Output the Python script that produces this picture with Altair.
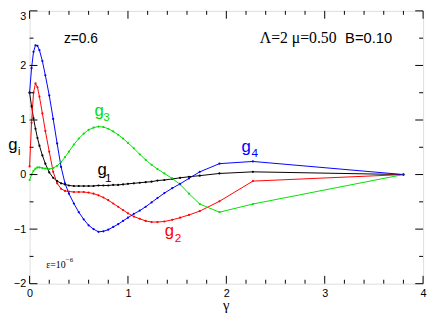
import altair as alt
import pandas as pd

gamma = [0, 0.02, 0.04, 0.06, 0.08, 0.1, 0.13, 0.16, 0.2, 0.24, 0.28, 0.32, 0.36, 0.4,
         0.45, 0.5, 0.55, 0.6, 0.65, 0.7, 0.75, 0.8, 0.85, 0.9, 0.95, 1.0,
         1.06, 1.12, 1.18, 1.24, 1.3, 1.37, 1.45, 1.53, 1.62, 1.73, 1.93, 2.27, 3.8]

g1 = [1.5, 1.25, 1.03, 0.84, 0.67, 0.53, 0.35, 0.2, 0.04, -0.06, -0.12, -0.16, -0.18, -0.2,
      -0.21, -0.21, -0.21, -0.21, -0.21, -0.2, -0.2, -0.2, -0.19, -0.19, -0.18, -0.17,
      -0.16, -0.15, -0.14, -0.13, -0.11, -0.1, -0.08, -0.06, -0.04, -0.02, 0.02, 0.05, 0.0]

g2 = [0.15, 0.95, 1.5, 1.67, 1.6, 1.43, 1.12, 0.8, 0.42, 0.05, -0.16, -0.26, -0.3, -0.31,
      -0.32, -0.32, -0.32, -0.33, -0.35, -0.38, -0.42, -0.47, -0.53, -0.59, -0.65, -0.71,
      -0.77, -0.81, -0.85, -0.87, -0.87, -0.86, -0.83, -0.79, -0.74, -0.67, -0.49, -0.12, 0.0]

g3 = [-0.1, 0.0, 0.07, 0.11, 0.13, 0.13, 0.12, 0.11, 0.1, 0.12, 0.16, 0.23, 0.32, 0.42,
      0.55, 0.66, 0.75, 0.82, 0.86, 0.88, 0.87, 0.84, 0.79, 0.73, 0.66, 0.58,
      0.48, 0.37, 0.27, 0.18, 0.1, 0.02, -0.07, -0.18, -0.35, -0.54, -0.69, -0.54, 0.0]

g4 = [1.5, 1.95, 2.25, 2.37, 2.36, 2.28, 2.08, 1.82, 1.45, 1.02, 0.57, 0.14, -0.16, -0.35,
      -0.53, -0.69, -0.82, -0.93, -1.0, -1.05, -1.04, -1.01, -0.96, -0.91, -0.85, -0.79,
      -0.72, -0.66, -0.59, -0.51, -0.43, -0.34, -0.25, -0.17, -0.07, 0.05, 0.2, 0.24, 0.0]

series_names = ["g1", "g2", "g3", "g4"]
series_colors = ["#000000", "#ff0000", "#00e000", "#0000ff"]

x_major = [0, 1, 2, 3, 4]
x_minor = [0.2, 0.4, 0.6, 0.8, 1.2, 1.4, 1.6, 1.8, 2.2, 2.4, 2.6, 2.8, 3.2, 3.4, 3.6, 3.8]
y_major = [-2, -1, 0, 1, 2, 3]
y_minor = [-1.5, -0.5, 0.5, 1.5, 2.5]

rows = []
for name, vals in zip(series_names, [g1, g2, g3, g4]):
    for xv, yv in zip(gamma, vals):
        rows.append({"gamma": xv, "g": yv, "series": name})
df = pd.DataFrame(rows)

W, H = 401, 278
xs = alt.Scale(domain=[0, 4], nice=False, zero=False)
ys = alt.Scale(domain=[-2, 3], nice=False, zero=False)
color = alt.Color("series:N", scale=alt.Scale(domain=series_names, range=series_colors), legend=None)

SANS = "Liberation Sans"
SERIF = "Liberation Serif"

xaxis = alt.Axis(values=x_major, format="d", title=None, ticks=False, domain=False, grid=False,
                 labelFont=SANS, labelFontSize=11, labelColor="black", labelPadding=4,
                 labelFlush=False)
yaxis = alt.Axis(values=y_major, format="d", title=None, ticks=False, domain=False, grid=False,
                 labelFont=SANS, labelFontSize=11, labelColor="black", labelPadding=4,
                 labelFlush=False,
                 labelBaseline={"condition": {"test": "datum.value === 3", "value": "top"},
                                "value": "middle"})

lines = alt.Chart(df).mark_line(strokeWidth=1).encode(
    x=alt.X("gamma:Q", scale=xs, axis=xaxis),
    y=alt.Y("g:Q", scale=ys, axis=yaxis),
    color=color,
    detail="series:N",
    order=alt.Order("gamma:Q"),
)
points = alt.Chart(df).mark_point(filled=True, size=5, opacity=1).encode(
    x=alt.X("gamma:Q", scale=xs),
    y=alt.Y("g:Q", scale=ys),
    color=color,
)


def xticks(vals, L):
    d = pd.DataFrame({"v": vals})
    b = alt.Chart(d).mark_rule(color="black", strokeWidth=1).encode(
        x=alt.X("v:Q", scale=xs), y=alt.value(H), y2=alt.value(H - L))
    t = alt.Chart(d).mark_rule(color="black", strokeWidth=1).encode(
        x=alt.X("v:Q", scale=xs), y=alt.value(0), y2=alt.value(L))
    return [b, t]


def yticks(vals, L):
    d = pd.DataFrame({"v": vals})
    l = alt.Chart(d).mark_rule(color="black", strokeWidth=1).encode(
        y=alt.Y("v:Q", scale=ys), x=alt.value(0), x2=alt.value(L))
    r = alt.Chart(d).mark_rule(color="black", strokeWidth=1).encode(
        y=alt.Y("v:Q", scale=ys), x=alt.value(W), x2=alt.value(W - L))
    return [l, r]


one = pd.DataFrame({"a": [0]})


def label(text, x, y, size, col="black", font=SANS, align="center"):
    return alt.Chart(one).mark_text(text=text, font=font, fontSize=size, color=col,
                                    align=align, baseline="alphabetic").encode(
        x=alt.X(datum=x, scale=xs),
        y=alt.Y(datum=y, scale=ys))


def plabel(text, x, y, size, font=SANS, align="center"):
    return alt.Chart(one).mark_text(text=text, font=font, fontSize=size, color="black",
                                    align=align, baseline="alphabetic").encode(
        x=alt.value(x), y=alt.value(y))


texts = [
    label("z=0.6", 0.349, 2.41, 14, align="left"),
    label("Λ=2 μ=0.50", 2.34, 2.41, 16, font=SERIF, align="left"),
    label("B=0.10", 3.207, 2.41, 15, align="left"),
    label("ε=10", 0.169, -1.71, 10, font=SERIF, align="left"),
    label("−6", 0.368, -1.61, 7, font=SERIF, align="left"),
    label("g", 0.707, 1.079, 17, col=series_colors[2]),
    label("3", 0.782, 0.99, 12, col=series_colors[2]),
    label("g", 2.20, 0.42, 17, col=series_colors[3]),
    label("4", 2.29, 0.33, 12, col=series_colors[3]),
    label("g", 0.737, -0.005, 17, col=series_colors[0]),
    label("1", 0.80, -0.13, 12, col=series_colors[0]),
    label("g", 1.42, -1.13, 17, col=series_colors[1]),
    label("2", 1.51, -1.23, 12, col=series_colors[1]),
    plabel("g", -17, 142, 17),
    plabel("i", -10.5, 147, 11),
    alt.Chart(one).mark_text(text="γ", font=SERIF, fontSize=15, color="black",
                             baseline="alphabetic").encode(
        x=alt.X(datum=2.0, scale=xs), y=alt.value(305)),
]

layers = [lines, points] + xticks(x_major, 8) + xticks(x_minor, 4) + yticks(y_major, 8) + \
    yticks(y_minor, 4) + texts

chart = alt.layer(*layers).properties(
    width=W, height=H,
    autosize=alt.AutoSizeParams(type="none"),
    padding={"left": 22, "top": 0, "right": 5, "bottom": 30},
).configure_view(stroke="black", strokeWidth=1.5).configure(background="white")

chart.save("out.html", embed_options={"renderer": "svg", "actions": False})
